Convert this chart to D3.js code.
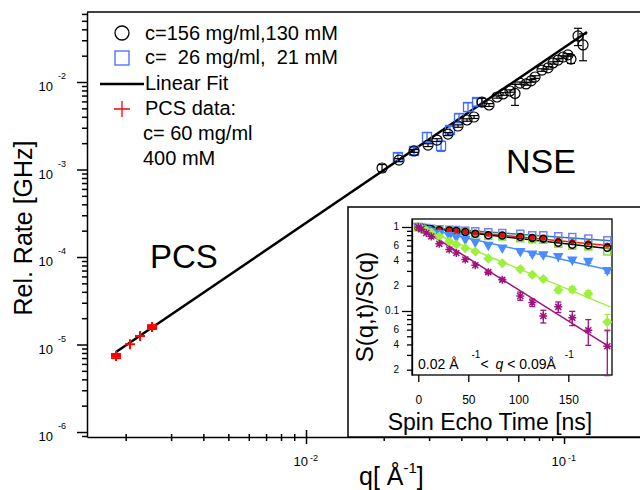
<!DOCTYPE html>
<html>
<head>
<meta charset="utf-8">
<script src="https://cdn.jsdelivr.net/npm/d3@7"></script>
<style>
  body { margin: 0; background: #fff; }
  svg { font-family: "Liberation Sans", Arial, Helvetica, sans-serif; }
  text { white-space: pre; }
</style>
</head>
<body>
<svg id="chart" width="640" height="490"></svg>
<script>
// ---- main plot: relaxation rate vs q ----
// NSE, c=156 mg/ml, 130 mM
var nseQ = [0.01971, 0.02293, 0.02622, 0.02971, 0.03220, 0.03551, 0.03882, 0.04207, 0.04479, 0.04810,
            0.05120, 0.05498, 0.05802, 0.06175, 0.06457, 0.06752, 0.07124, 0.07449, 0.07720, 0.08216,
            0.08670, 0.09066, 0.09478, 0.09911, 0.1036, 0.1064, 0.1133, 0.1185];
var nseRate = [1.04e-3, 1.28e-3, 1.63e-3, 1.90e-3, 2.17e-3, 2.54e-3, 3.14e-3, 3.68e-3, 3.98e-3, 5.9e-3,
               5.46e-3, 6.74e-3, 7.3e-3, 7.89e-3, 7.4e-3, 9.7e-3, 9.5e-3, 1.03e-2, 1.14e-2, 1.37e-2,
               1.45e-2, 1.65e-2, 1.78e-2, 1.93e-2, 2.04e-2, 1.83e-2, 3.36e-2, 2.65e-2];
var nseErr = [0.1e-3, 0.05e-3, 0.06e-3, 0.07e-3, 0.08e-3, 0.1e-3, 0.1e-3, 0.12e-3, 0.15e-3, 0.6e-3,
              0.2e-3, 0.2e-3, 0.25e-3, 0.25e-3, 2.0e-3, 0.3e-3, 0.3e-3, 0.35e-3, 0.4e-3, 0.45e-3,
              0.5e-3, 0.5e-3, 0.6e-3, 0.6e-3, 0.7e-3, 2.0e-3, 7.5e-3, 9.0e-3];
// NSE, c=26 mg/ml, 21 mM
var lowQ = [0.02270, 0.02622, 0.02944, 0.03337, 0.03614, 0.03917, 0.04245, 0.04601];
var lowRate = [1.39e-3, 1.63e-3, 2.35e-3, 1.86e-3, 2.83e-3, 3.88e-3, 5.18e-3, 5.91e-3];
var lowErr = [0.15e-3, 0.15e-3, 0.3e-3, 0.25e-3, 0.3e-3, 0.45e-3, 0.6e-3, 0.6e-3];
// PCS, c=60 mg/ml, 400 mM
var pcsQ = [1.835e-3, 2.078e-3, 2.273e-3, 2.530e-3];
var pcsRate = [7.39e-6, 1.01e-5, 1.25e-5, 1.585e-5];
var pcsErr = [0.4e-6, 0, 0, 0.8e-6];
// linear fit (rate ~ q^2)
var fitQ = [1.835e-3, 0.1228];
var fitRate = [8.21e-6, 0.0373];
var xMajor = [1e-2, 1e-1], xMajorExp = ["-2", "-1"];
var yMajor = [1e-6, 1e-5, 1e-4, 1e-3, 1e-2], yMajorExp = ["-6", "-5", "-4", "-3", "-2"];

// ---- inset: S(q,t)/S(q) vs spin echo time ----
var echoTime = [0, 3, 8, 13, 21, 31, 38, 47, 57, 70, 84, 102, 114, 125, 140, 154, 170, 189];
var sqtCircle = [1.0, 0.98, 0.955, 0.94, 0.915, 0.91, 0.895, 0.87, 0.83, 0.80, 0.79, 0.76, 0.74, 0.725, 0.65, 0.615, 0.605, 0.565];
var sqtRed = [1.0, 0.98, 0.96, 0.945, 0.925, 0.915, 0.9, 0.88, 0.85, 0.82, 0.80, 0.78, 0.76, 0.745, 0.70, 0.67, 0.655, 0.61];
var sqtBlueSq = [1.0, 0.985, 0.97, 0.955, 0.94, 0.93, 0.92, 0.905, 0.89, 0.865, 0.85, 0.83, 0.80, 0.80, 0.775, 0.76, 0.73, 0.695];
var sqtGreenSq = [1.0, 0.975, 0.95, 0.935, 0.905, 0.9, 0.88, 0.855, 0.82, 0.78, 0.77, 0.735, 0.715, 0.705, 0.63, 0.60, 0.585, 0.51];
var sqtTri = [1.0, 0.96, 0.92, 0.88, 0.83, 0.78, 0.75, 0.70, 0.65, 0.60, 0.555, 0.505, 0.47, 0.46, 0.44, 0.40, 0.385, 0.30];
var errTri = [0, 0, 0, 0, 0, 0, 0, 0, 0, 0, 0, 0.01, 0.01, 0.01, 0.012, 0.012, 0.015, 0.018];
var sqtDia = [1.0, 0.96, 0.91, 0.86, 0.77, 0.67, 0.62, 0.56, 0.51, 0.42, 0.37, 0.315, 0.27, 0.24, 0.178, 0.18, 0.16, 0.074];
var errDia = [0, 0, 0, 0, 0, 0, 0, 0, 0, 0, 0.008, 0.01, 0.01, 0.01, 0.015, 0.015, 0.015, 0.017];
var sqtStar = [1.0, 0.94, 0.85, 0.77, 0.63, 0.54, 0.49, 0.41, 0.35, 0.29, 0.236, 0.151, 0.126, 0.087, 0.112, 0.083, 0.059, 0.038];
var errStar = [0, 0, 0, 0, 0, 0, 0, 0, 0, 0.01, 0.01, 0.017, 0.013, 0.015, 0.016, 0.016, 0.02, 0.021];
var fitTime = [0, 192];
var fitCircle = [1, 0.55], fitRed = [1, 0.60], fitBlueSq = [1, 0.685];
var fitTri = [1, 0.305], fitDia = [1, 0.112], fitStar = [1, 0.037];
var insetXTicks = [0, 50, 100, 150];
var insetYLabels = [[1, "1"], [0.6, "6"], [0.4, "4"], [0.2, "2"], [0.1, "0.1"], [0.06, "6"], [0.04, "4"], [0.02, "2"]];

var svg = d3.select("#chart");

// scales
var x = d3.scaleLog().domain([1.416e-3, 0.206]).range([87, 645]);
var y = d3.scaleLog().domain([8.77e-7, 0.0631]).range([437, 12]);

function minorTicks(scale, lo, hi) {
  var out = [], dom = scale.domain();
  for (var e = lo; e <= hi; e++)
    for (var k = 2; k <= 9; k++) {
      var v = k * Math.pow(10, e);
      if (v > dom[0] && v < dom[1]) out.push(v);
    }
  return out;
}

// ---- axes ----
var yAxisG = svg.append("g").attr("transform", "translate(87,0)");
yAxisG.call(d3.axisLeft(y).tickValues(minorTicks(y, -7, -2)).tickSize(5).tickSizeOuter(0).tickFormat(""));
yAxisG.append("g").call(d3.axisLeft(y).tickValues(yMajor).tickSize(10).tickFormat("")).select(".domain").remove();
yAxisG.selectAll("path, line").attr("stroke", "#000").attr("stroke-width", 1.5);

var xAxisG = svg.append("g").attr("transform", "translate(0,437)");
xAxisG.call(d3.axisBottom(x).tickValues(minorTicks(x, -3, -1)).tickSize(4).tickSizeOuter(0).tickFormat(""));
xAxisG.selectAll(".tick line").attr("y1", -3);
var xMaj = xAxisG.append("g").call(d3.axisBottom(x).tickValues(xMajor).tickSize(7).tickFormat(""));
xMaj.select(".domain").remove();
xMaj.selectAll(".tick line").attr("y1", -7);
xAxisG.selectAll("path, line").attr("stroke", "#000").attr("stroke-width", 1.5);

// top frame line
svg.append("line").attr("x1", x.range()[0]).attr("x2", x.range()[1])
  .attr("y1", y.range()[1]).attr("y2", y.range()[1])
  .attr("stroke", "#000").attr("stroke-width", 1.5);

// tick labels 10^n
yMajor.forEach(function(v, i) {
  var t = svg.append("g").attr("transform", "translate(0," + y(v) + ")");
  t.append("text").attr("x", 53).attr("y", 9).attr("text-anchor", "end").attr("font-size", 13).text("10");
  t.append("text").attr("x", 58).attr("y", -3).attr("font-size", 9).text(yMajorExp[i]);
});
xMajor.forEach(function(v, i) {
  var t = svg.append("g").attr("transform", "translate(" + x(v) + ",0)");
  t.append("text").attr("x", 2).attr("y", 466).attr("text-anchor", "end").attr("font-size", 13).text("10");
  t.append("text").attr("x", 4).attr("y", 461).attr("font-size", 9).text(xMajorExp[i]);
});

// axis titles
svg.append("text").attr("transform", "translate(32,228) rotate(-90)")
  .attr("text-anchor", "middle").attr("font-size", 25).text("Rel. Rate [GHz]");
var xt = svg.append("text").attr("x", 359).attr("y", 485).attr("font-size", 25);
xt.append("tspan").text("q[ Å");
xt.append("tspan").attr("font-size", 15).attr("dy", -12).text("-1");
xt.append("tspan").attr("dy", 12).text("]");

// region labels
svg.append("text").attr("x", 150).attr("y", 268).attr("font-size", 33).text("PCS");
svg.append("text").attr("x", 506).attr("y", 173).attr("font-size", 34).text("NSE");

// ---- main data ----
var fitLine = d3.line().x(function(d) { return x(d[0]); }).y(function(d) { return y(d[1]); });
svg.append("path").datum(d3.zip(fitQ, fitRate)).attr("d", fitLine)
  .attr("fill", "none").attr("stroke", "#000").attr("stroke-width", 2.5);

function errBars(g, xs, ys, es, xf, yf, cap, color, width) {
  var rows = d3.range(xs.length).filter(function(i) { return es[i] > 0; });
  rows.forEach(function(i) {
    var cx = xf(xs[i]), top = yf(ys[i] + es[i]), bot = yf(Math.max(ys[i] - es[i], 1e-9));
    g.append("line").attr("x1", cx).attr("x2", cx).attr("y1", top).attr("y2", bot);
    g.append("line").attr("x1", cx - cap).attr("x2", cx + cap).attr("y1", top).attr("y2", top);
    g.append("line").attr("x1", cx - cap).attr("x2", cx + cap).attr("y1", bot).attr("y2", bot);
  });
  g.attr("stroke", color).attr("stroke-width", width);
}

// low concentration squares
errBars(svg.append("g"), lowQ, lowRate, lowErr, x, y, 4, "#3f6bff", 1.3);
svg.append("g").selectAll("rect").data(d3.zip(lowQ, lowRate)).join("rect")
  .attr("x", function(d) { return x(d[0]) - 4.5; }).attr("y", function(d) { return y(d[1]) - 4.5; })
  .attr("width", 9).attr("height", 9)
  .attr("fill", "none").attr("stroke", "#3f6bff").attr("stroke-width", 1.3);

// high concentration circles
errBars(svg.append("g"), nseQ, nseRate, nseErr, x, y, 4, "#000", 1.2);
svg.append("g").selectAll("circle").data(d3.zip(nseQ, nseRate)).join("circle")
  .attr("cx", function(d) { return x(d[0]); }).attr("cy", function(d) { return y(d[1]); })
  .attr("r", 5).attr("fill", "none").attr("stroke", "#000").attr("stroke-width", 1.2);

// PCS crosses
errBars(svg.append("g"), pcsQ, pcsRate, pcsErr, x, y, 5, "#ff0000", 2);
svg.append("g").selectAll("path").data(d3.zip(pcsQ, pcsRate)).join("path")
  .attr("d", function(d) {
    var cx = x(d[0]), cy = y(d[1]);
    return "M" + (cx - 5) + "," + cy + "H" + (cx + 5) + "M" + cx + "," + (cy - 5) + "V" + (cy + 5);
  })
  .attr("stroke", "#ff0000").attr("stroke-width", 2);

// ---- legend ----
var lg = svg.append("g").attr("font-size", 20);
lg.append("circle").attr("cx", 122).attr("cy", 33).attr("r", 7)
  .attr("fill", "none").attr("stroke", "#000").attr("stroke-width", 1.3);
lg.append("rect").attr("x", 115).attr("y", 51).attr("width", 14).attr("height", 14)
  .attr("fill", "none").attr("stroke", "#3f6bff").attr("stroke-width", 1.3);
lg.append("line").attr("x1", 100).attr("x2", 144).attr("y1", 84).attr("y2", 84)
  .attr("stroke", "#000").attr("stroke-width", 2.5);
lg.append("path").attr("d", "M114,109H130M122,101V117").attr("stroke", "#ff0000").attr("stroke-width", 1.3);
var legendText = [["c=156 mg/ml,130 mM", 145, 40], ["c=  26 mg/ml,  21 mM", 145, 64], ["Linear Fit", 145, 90],
                  ["PCS data:", 145, 115], ["c= 60 mg/ml", 143, 140], ["400 mM", 143, 165]];
legendText.forEach(function(d) {
  lg.append("text").attr("x", d[1]).attr("y", d[2]).text(d[0]);
});

// ---- inset ----
svg.append("rect").attr("x", 348).attr("y", 207).attr("width", 320).attr("height", 230)
  .attr("fill", "#fff").attr("stroke", "#000").attr("stroke-width", 1.5);

var xi = d3.scaleLinear().domain([-6.3, 193.7]).range([412, 612]);
var yi = d3.scaleLog().domain([0.0173, 1.245]).range([375, 219]);

var ig = svg.append("g");
var iyAxis = ig.append("g").attr("transform", "translate(412,0)");
iyAxis.call(d3.axisLeft(yi).tickValues(minorTicks(yi, -2, -1)).tickSize(5).tickSizeOuter(0).tickFormat(""));
iyAxis.append("g").call(d3.axisLeft(yi).tickValues([0.1, 1]).tickSize(10).tickFormat("")).select(".domain").remove();
iyAxis.selectAll("path, line").attr("stroke", "#000").attr("stroke-width", 1.3);
ig.append("g").attr("font-size", 10).attr("text-anchor", "end")
  .selectAll("text").data(insetYLabels).join("text")
  .attr("x", 399).attr("y", function(d) { return yi(d[0]); }).attr("dy", "0.35em")
  .text(function(d) { return d[1]; });

var ixAxis = ig.append("g").attr("transform", "translate(0,375)");
ixAxis.call(d3.axisBottom(xi).tickValues(insetXTicks).tickSize(7).tickSizeOuter(0).tickPadding(13));
ixAxis.select(".domain").remove();
ixAxis.selectAll("line").attr("stroke", "#000").attr("stroke-width", 1.3);
ixAxis.selectAll("text").attr("font-size", 12).attr("font-family", null).attr("fill", "#000");

ig.append("rect").attr("x", 412).attr("y", 219).attr("width", 200).attr("height", 156)
  .attr("fill", "none").attr("stroke", "#000").attr("stroke-width", 1.3);

ig.append("text").attr("x", 490).attr("y", 430).attr("text-anchor", "middle").attr("font-size", 23)
  .text("Spin Echo Time [ns]");
ig.append("text").attr("transform", "translate(373,307) rotate(-90)").attr("text-anchor", "middle")
  .attr("font-size", 24).text("S(q,t)/S(q)");

var ann = ig.append("text").attr("x", 418).attr("y", 369).attr("font-size", 14);
ann.append("tspan").text("0.02 Å");
ann.append("tspan").attr("dx", 13).attr("dy", -11).attr("font-size", 10).text("-1");
ann.append("tspan").attr("dy", 11).text("< ");
ann.append("tspan").attr("dx", 3).attr("font-style", "italic").text("q");
ann.append("tspan").text(" < 0.09Å");
ann.append("tspan").attr("dx", 9).attr("dy", -11).attr("font-size", 10).text("-1");

var plot = ig.append("g");
plot.append("clipPath").attr("id", "insetClip").append("rect")
  .attr("x", 412).attr("y", 219).attr("width", 200).attr("height", 156);
var lineI = d3.line().x(function(d) { return xi(d[0]); }).y(function(d) { return yi(d[1]); });
[[fitBlueSq, "#1f7fa6"], [fitRed, "#ff1a1a"], [fitCircle, "#000"], [fitTri, "#4a8cff"],
 [fitDia, "#9ef03e"], [fitStar, "#a0127e"]].forEach(function(f) {
  plot.append("path").datum(d3.zip(fitTime, f[0])).attr("d", lineI).attr("clip-path", "url(#insetClip)")
    .attr("fill", "none").attr("stroke", f[1]).attr("stroke-width", 1.5);
});

function markers(vals, color, shape, size) {
  var g = plot.append("g");
  g.selectAll("path").data(d3.zip(echoTime, vals)).join("path")
    .attr("transform", function(d) { return "translate(" + xi(d[0]) + "," + yi(d[1]) + ")"; })
    .attr("d", shape(size))
    .attr("fill", shape.filled ? color : "none").attr("stroke", color).attr("stroke-width", 1.5);
  return g;
}
function sq(s) { return "M" + (-s) + "," + (-s) + "h" + 2 * s + "v" + 2 * s + "h" + (-2 * s) + "Z"; }
function circ(s) { return "M" + (-s) + ",0a" + s + "," + s + " 0 1,0 " + 2 * s + ",0a" + s + "," + s + " 0 1,0 " + (-2 * s) + ",0"; }
function tri(s) { return "M" + (-s) + "," + (-s * 0.8) + "H" + s + "L0," + s + "Z"; }
tri.filled = true;
function dia(s) { return "M0," + (-s) + "L" + s + ",0L0," + s + "L" + (-s) + ",0Z"; }
dia.filled = true;
function star(s) {
  var d = s * 0.75;
  return "M" + (-s) + ",0H" + s + "M0," + (-s) + "V" + s +
    "M" + (-d) + "," + (-d) + "L" + d + "," + d + "M" + (-d) + "," + d + "L" + d + "," + (-d);
}
function dot(s) { return circ(s); }
dot.filled = true;

markers(sqtBlueSq, "#7a7cff", sq, 3.5);
markers(sqtGreenSq, "#86e03a", sq, 3.5);
markers(sqtRed, "#ff0000", dot, 1.8);
markers(sqtCircle, "#000", circ, 3.5);
errBars(plot.append("g"), echoTime, sqtTri, errTri, xi, yi, 3, "#4a8cff", 1.3);
markers(sqtTri, "#4a8cff", tri, 4);
errBars(plot.append("g"), echoTime, sqtDia, errDia, xi, yi, 3, "#9ef03e", 1.3);
markers(sqtDia, "#9ef03e", dia, 4);
errBars(plot.append("g"), echoTime, sqtStar, errStar, xi, yi, 3, "#a0127e", 1.3);
markers(sqtStar, "#a0127e", star, 4).attr("stroke-width", 2);
</script>
</body>
</html>
